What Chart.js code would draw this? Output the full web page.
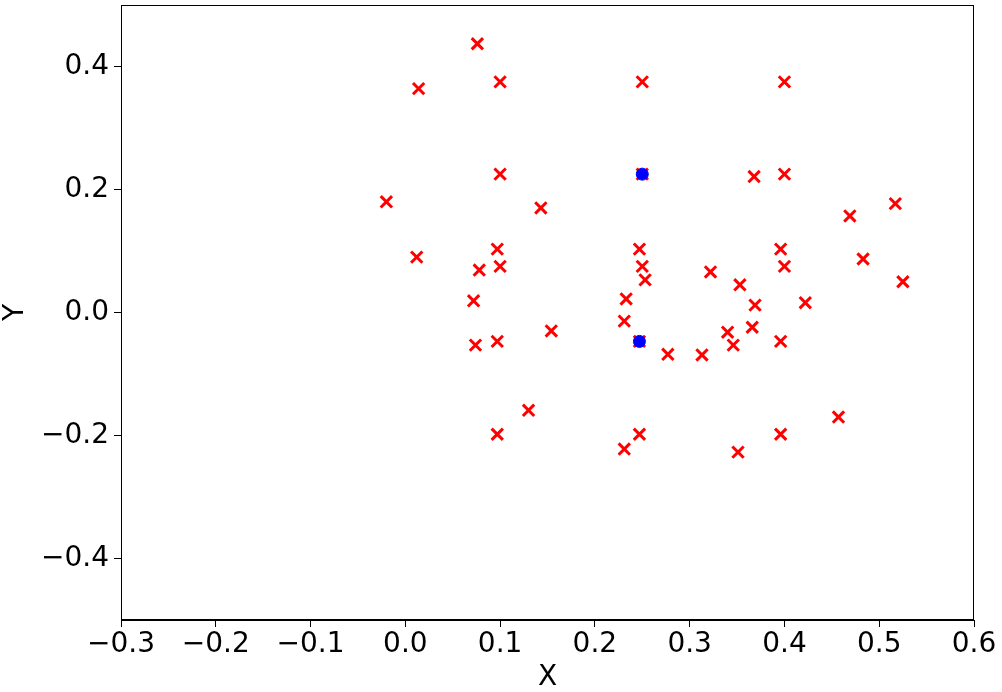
<!DOCTYPE html>
<html>
<head>
<meta charset="utf-8">
<script src="https://cdn.jsdelivr.net/npm/chart.js@4/dist/chart.umd.min.js"></script>
<style>
html,body{margin:0;padding:0;background:#fff;}
#wrap{width:1002px;height:692px;position:relative;}
</style>
</head>
<body>
<div id="wrap"><canvas id="c" width="1002" height="692"></canvas></div>
<script>
const redX = [0.076, 0.014, 0.100, 0.250, 0.400, 0.100, 0.250, 0.400, 0.368, -0.020, 0.143, 0.469, 0.517,
  0.012, 0.097, 0.100, 0.078, 0.247, 0.250, 0.253, 0.322, 0.396, 0.400, 0.483, 0.353, 0.369, 0.422, 0.525,
  0.072, 0.233, 0.231, 0.154, 0.074, 0.097, 0.247, 0.277, 0.313, 0.340, 0.346, 0.366, 0.396,
  0.130, 0.097, 0.231, 0.247, 0.351, 0.396, 0.457];
const redY = [0.437, 0.364, 0.375, 0.375, 0.375, 0.225, 0.225, 0.225, 0.221, 0.180, 0.170, 0.157, 0.177,
  0.090, 0.103, 0.075, 0.069, 0.103, 0.075, 0.053, 0.066, 0.103, 0.075, 0.087, 0.045, 0.012, 0.016, 0.050,
  0.019, 0.022, -0.014, -0.030, -0.053, -0.047, -0.047, -0.068, -0.069, -0.032, -0.053, -0.024, -0.047,
  -0.159, -0.198, -0.222, -0.198, -0.227, -0.198, -0.170];
const blueX = [0.250, 0.247];
const blueY = [0.225, -0.047];
const xTicks = [-0.3, -0.2, -0.1, 0.0, 0.1, 0.2, 0.3, 0.4, 0.5, 0.6];
const yTicks = [-0.4, -0.2, 0.0, 0.2, 0.4];
const xTitle = 'X';
const yTitle = 'Y';

const toPts = (xs, ys) => xs.map((x, i) => ({x: x, y: ys[i]}));
const fmt = v => { const s = Math.abs(v).toFixed(1); return (v < -1e-9 ? '\u2212' : '') + s; };
const FONT = {family: 'DejaVu Sans', size: 28, lineHeight: 1};

const framePlugin = {
  id: 'frame',
  afterDraw(chart) {
    const a = chart.chartArea, ctx = chart.ctx;
    ctx.save();
    ctx.strokeStyle = '#000';
    ctx.lineWidth = 1;
    ctx.strokeRect(Math.round(a.left) + 0.5, Math.round(a.top) + 0.5,
      Math.round(a.right - a.left) - 1, Math.round(a.bottom - a.top) - 1);
    ctx.restore();
  }
};

new Chart(document.getElementById('c'), {
  type: 'scatter',
  data: {
    datasets: [
      {
        label: 'blue',
        data: toPts(blueX, blueY),
        pointStyle: 'circle',
        pointRadius: 6,
        backgroundColor: '#0000ff',
        borderColor: '#0000ff',
        borderWidth: 1
      },
      {
        label: 'red',
        data: toPts(redX, redY),
        pointStyle: 'crossRot',
        pointRadius: 8,
        borderColor: '#ff0000',
        backgroundColor: '#ff0000',
        borderWidth: 3
      }
    ]
  },
  options: {
    responsive: false,
    animation: false,
    events: [],
    layout: {autoPadding: false, padding: {left: 0, right: 28, top: 5, bottom: 0}},
    plugins: {legend: {display: false}, tooltip: {enabled: false}},
    scales: {
      x: {
        type: 'linear',
        min: -0.3, max: 0.6,
        afterBuildTicks: s => { s.ticks = xTicks.map(v => ({value: v})); },
        afterFit: s => { s.height = 72; s.paddingLeft = 0; s.paddingRight = 0; },
        ticks: {color: '#000', font: FONT, padding: 4, maxRotation: 0, autoSkip: false, callback: v => fmt(v)},
        grid: {drawOnChartArea: false, tickLength: 7, color: '#000', tickColor: '#000'},
        border: {display: true, color: '#000'},
        title: {display: true, text: xTitle, color: '#000', font: FONT, padding: {top: 0, bottom: 0}}
      },
      y: {
        type: 'linear',
        min: -0.5, max: 0.5,
        afterBuildTicks: s => { s.ticks = yTicks.map(v => ({value: v})); },
        afterFit: s => { s.width = 121; s.paddingTop = 0; s.paddingBottom = 0; },
        ticks: {color: '#000', font: FONT, padding: 5, autoSkip: false, callback: v => fmt(v)},
        grid: {drawOnChartArea: false, tickLength: 7, color: '#000', tickColor: '#000'},
        border: {display: true, color: '#000'},
        title: {display: true, text: yTitle, color: '#000', font: FONT, padding: {top: 2, bottom: 0}}
      }
    }
  },
  plugins: [framePlugin]
});
</script>
</body>
</html>
